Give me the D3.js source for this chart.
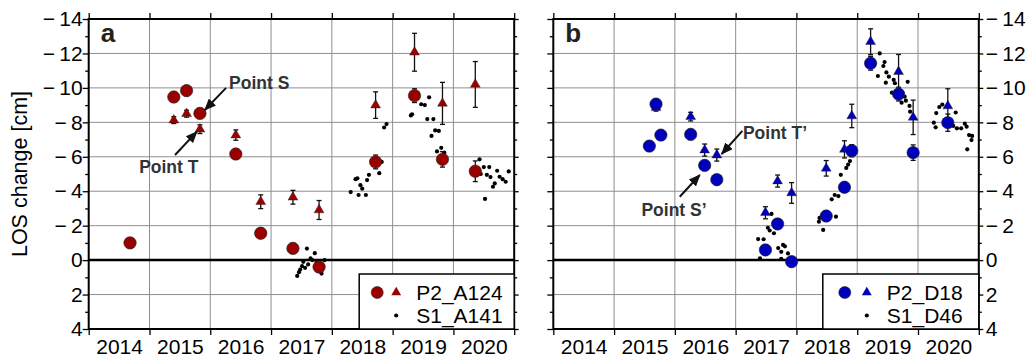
<!DOCTYPE html>
<html>
<head>
<meta charset="utf-8">
<script src="https://cdn.jsdelivr.net/npm/d3@7"></script>
<style>
  body { margin: 0; background: #fff; }
  text { font-family: "Liberation Sans", Arial, Helvetica, sans-serif; }
</style>
</head>
<body>
<svg id="chart" width="1028" height="359"></svg>
<script>
/* DATA */
// panel a : P2_A124 (circles + triangles) and S1_A141 (dots)
const A_DATES = [2014.68, 2015.40, 2015.61, 2015.83, 2016.42, 2016.83, 2017.36, 2017.79, 2018.72, 2019.36, 2019.82, 2020.36]
const A_CIRCLE = [-1.0, -9.47, -9.84, -8.52, -6.16, -1.56, -0.68, 0.40, -5.70, -9.55, -5.85, -5.16]
const A_CIRCLE_ERR = [0.3, 0.3, 0.3, 0.3, 0.3, 0.3, 0.3, 0.3, 0.4, 0.4, 0.45, 0.6]
const A_TRI = [null, -8.13, -8.5, -7.6, -7.26, -3.39, -3.65, -2.91, -9.0, -12.07, -9.1, -10.2]
const A_TRI_ERR = [null, 0.2, 0.2, 0.25, 0.3, 0.4, 0.4, 0.55, 0.77, 1.1, 1.22, 1.33]

const A_S1_DATES = [2017.43, 2017.46, 2017.48, 2017.51, 2017.53, 2017.56, 2017.59, 2017.61, 2017.65, 2017.68, 2017.72, 2017.75, 2017.80, 2017.83, 2017.88,
    2018.31, 2018.39, 2018.42, 2018.44, 2018.47, 2018.50, 2018.56, 2018.58, 2018.61, 2018.78, 2018.82, 2018.86, 2018.90,
    2019.30, 2019.32, 2019.47, 2019.53, 2019.57, 2019.60, 2019.64, 2019.67, 2019.70, 2019.73, 2019.76, 2019.80, 2019.85,
    2020.43, 2020.45, 2020.50, 2020.52, 2020.55, 2020.59, 2020.61, 2020.65, 2020.68, 2020.72, 2020.76, 2020.81, 2020.86, 2020.91]
const A_S1_VALUES = [0.92, 0.70, 0.55, 0.35, 0.10, 0.45, -0.67, 0.25, -0.10, 0.00, -0.40, 0.10, 0.60, 0.78, 0.00,
    -3.95, -4.70, -4.75, -3.78, -4.35, -4.15, -3.78, -4.65, -4.95, -5.05, -5.70, -7.70, -7.90,
    -8.40, -8.47, -9.05, -9.0, -8.19, -9.45, -7.21, -8.19, -7.53, -6.31, -7.50, -6.52, -6.24,
    -5.85, -5.0, -5.40, -3.55, -4.95, -5.40, -4.82, -4.26, -4.45, -5.19, -4.84, -4.70, -4.55, -5.15]

// panel b : P2_D18 (circles + triangles) and S1_D46 (dots)
const B_DATES = [2015.58, 2015.69, 2015.77, 2016.26, 2016.49, 2016.69, 2017.49, 2017.69, 2017.92, 2018.49, 2018.79, 2018.91, 2019.22, 2019.68, 2019.92, 2020.49]
const B_CIRCLE = [-6.62, -9.06, -7.26, -7.30, -5.50, -4.67, -0.59, -2.10, 0.09, -2.56, -4.23, -6.35, -11.43, -9.64, -6.24, -7.98]
const B_CIRCLE_ERR = [0.3, 0.3, 0.3, 0.3, 0.3, 0.3, 0.3, 0.3, 0.3, 0.3, 0.3, 0.35, 0.4, 0.4, 0.45, 0.5]
const B_TRI = [null, -8.85, null, -8.33, -6.39, -6.10, -2.75, -4.59, -3.90, -5.33, -6.43, -8.37, -12.68, -10.94, -8.29, -8.95]
const B_TRI_ERR = [null, 0.2, null, 0.25, 0.35, 0.35, 0.35, 0.35, 0.6, 0.45, 0.5, 0.68, 0.75, 1.0, 1.0, 1.0]

const B_S1_DATES = [2017.37, 2017.40, 2017.46, 2017.53, 2017.56, 2017.59, 2017.63, 2017.70, 2017.75, 2017.75, 2017.78, 2017.81, 2017.86,
    2018.37, 2018.38, 2018.44, 2018.58, 2018.63, 2018.65, 2018.69, 2018.73, 2018.82, 2018.85, 2018.88,
    2019.34, 2019.37, 2019.43, 2019.45, 2019.47, 2019.48, 2019.52, 2019.57, 2019.60, 2019.62, 2019.73, 2019.78, 2019.80, 2019.83, 2019.86, 2019.87,
    2020.26, 2020.29, 2020.30, 2020.35, 2020.40, 2020.58, 2020.62, 2020.64, 2020.71, 2020.77, 2020.80, 2020.84, 2020.88, 2020.89, 2020.81]
const B_S1_VALUES = [-1.22, -0.10, -1.21, -1.88, -1.72, -2.68, -1.56, -0.70, -0.48, -0.07, -0.88, -0.80, -0.39,
    -2.23, -2.45, -1.75, -3.53, -3.78, -2.52, -3.72, -4.95, -5.35, -5.55, -5.75,
    -10.69, -12.0, -11.27, -11.50, -10.30, -10.90, -10.65, -9.72, -10.46, -10.27, -9.14, -9.49, -9.26, -10.35, -8.95, -8.62,
    -7.98, -7.71, -8.54, -8.89, -9.03, -7.79, -8.57, -7.65, -7.65, -7.92, -7.75, -7.26, -6.97, -7.21, -6.43]

const YEARS = [2014, 2015, 2016, 2017, 2018, 2019, 2020]

/* LAYOUT */
const svg = d3.select("#chart")
const TOP = 19, PW = 425.5, PH = 310
const FONT = 21

// GMT-like labels: minus sign with a small gap
const yFmt = d => d < 0 ? "\u2212\u2009" + Math.abs(d) : String(d)

const defs = svg.append("defs")
defs.append("marker")
    .attr("id", "arrow")
    .attr("markerUnits", "userSpaceOnUse")
    .attr("viewBox", "0 0 12 10")
    .attr("markerWidth", 12).attr("markerHeight", 10)
    .attr("refX", 11).attr("refY", 5)
    .attr("orient", "auto")
    .append("path").attr("d", "M0,0 L12,5 L0,10 z").attr("fill", "#111")

function drawPanel(opts) {
    const g = svg.append("g").attr("transform", "translate(" + opts.left + "," + TOP + ")")

    const x = d3.scaleLinear().domain([2014, 2021]).range([0, PW])
    const y = d3.scaleLinear().domain([-14, 4]).range([0, PH])

    // grid
    g.append("g").selectAll("line")
        .data(d3.range(2015, 2021))
        .join("line")
        .attr("x1", d => x(d)).attr("x2", d => x(d))
        .attr("y1", 0).attr("y2", PH)
        .attr("stroke", "#8f8f8f").attr("stroke-width", 1)
    g.append("g").selectAll("line")
        .data(d3.range(-12, 4, 2))
        .join("line")
        .attr("x1", 0).attr("x2", PW)
        .attr("y1", d => y(d)).attr("y2", d => y(d))
        .attr("stroke", "#8f8f8f").attr("stroke-width", 1)

    // zero line
    g.append("line")
        .attr("x1", 0).attr("x2", PW)
        .attr("y1", y(0)).attr("y2", y(0))
        .attr("stroke", "#000").attr("stroke-width", 2.5)

    // axes
    const styleAxis = sel => {
        sel.select(".domain").remove()
        sel.selectAll("line").attr("stroke", "#000").attr("stroke-width", 1.3)
        sel.selectAll("text").attr("font-size", FONT).attr("fill", "#000")
            .attr("font-family", "'Liberation Sans', Arial, sans-serif")
    }
    g.append("g").attr("transform", "translate(0," + PH + ")")
        .call(d3.axisBottom(x).tickValues(d3.range(2014, 2022)).tickSize(6).tickFormat(""))
        .call(styleAxis)
    g.append("g").attr("transform", "translate(0," + PH + ")")
        .call(d3.axisBottom(x).tickValues(YEARS.map(d => d + 0.5)).tickSize(0).tickPadding(10.5)
            .tickFormat(d => String(Math.floor(d))))
        .call(styleAxis)
    g.append("g")
        .call(d3.axisTop(x).tickValues(d3.range(2014, 2022)).tickSize(6).tickFormat(""))
        .call(styleAxis)

    const major = d3.range(-14, 5, 2)
    const minor = d3.range(-13, 4, 2)
    g.append("g")
        .call(d3.axisLeft(y).tickValues(major).tickSize(6).tickPadding(0)
            .tickFormat(opts.labelsLeft ? yFmt : ""))
        .call(styleAxis)
    g.append("g")
        .call(d3.axisLeft(y).tickValues(minor).tickSize(3.5).tickFormat(""))
        .call(styleAxis)
    g.append("g").attr("transform", "translate(" + PW + ",0)")
        .call(d3.axisRight(y).tickValues(major).tickSize(4.5).tickPadding(2.5)
            .tickFormat(opts.labelsRight ? yFmt : ""))
        .call(styleAxis)
    g.append("g").attr("transform", "translate(" + PW + ",0)")
        .call(d3.axisRight(y).tickValues(minor).tickSize(3).tickFormat(""))
        .call(styleAxis)

    // S1 dots
    g.append("g").selectAll("circle")
        .data(d3.zip(opts.s1Dates, opts.s1Values))
        .join("circle")
        .attr("cx", d => x(d[0])).attr("cy", d => y(d[1]))
        .attr("r", 2.1).attr("fill", "#000")

    // P2 rows
    const rows = opts.dates.map((d, i) => ({
        date: d, circ: opts.circle[i], circErr: opts.circleErr[i], tri: opts.tri[i], triErr: opts.triErr[i]
    }))

    const errBar = (sel, val, err) => {
        sel.each(function (d) {
            if (d[val] == null) return
            const gg = d3.select(this)
            const cx = x(d.date), y1 = y(d[val] - d[err]), y2 = y(d[val] + d[err])
            gg.append("line").attr("x1", cx).attr("x2", cx).attr("y1", y1).attr("y2", y2)
            gg.append("line").attr("x1", cx - 2.5).attr("x2", cx + 2.5).attr("y1", y1).attr("y2", y1)
            gg.append("line").attr("x1", cx - 2.5).attr("x2", cx + 2.5).attr("y1", y2).attr("y2", y2)
        })
    }

    const tri = d3.symbol().type(d3.symbolTriangle).size(42)
    const triRows = rows.filter(d => d.tri != null)
    g.append("g").attr("stroke", "#111").attr("stroke-width", 1.3)
        .selectAll("g").data(triRows).join("g").call(errBar, "tri", "triErr")
    g.append("g").selectAll("path")
        .data(triRows)
        .join("path")
        .attr("d", tri)
        .attr("transform", d => "translate(" + x(d.date) + "," + y(d.tri) + ")")
        .attr("fill", opts.color).attr("stroke", "#222").attr("stroke-width", 0.4)

    g.append("g").attr("stroke", "#111").attr("stroke-width", 1.3)
        .selectAll("g").data(rows).join("g").call(errBar, "circ", "circErr")
    g.append("g").selectAll("circle")
        .data(rows)
        .join("circle")
        .attr("cx", d => x(d.date)).attr("cy", d => y(d.circ))
        .attr("r", 6.2).attr("fill", opts.color).attr("stroke", "#222").attr("stroke-width", 0.6)

    // annotations
    opts.notes.forEach(n => {
        g.append("line")
            .attr("x1", x(n.from[0])).attr("y1", y(n.from[1]))
            .attr("x2", x(n.to[0])).attr("y2", y(n.to[1]))
            .attr("stroke", "#111").attr("stroke-width", 2)
            .attr("marker-end", "url(#arrow)")
        g.append("text")
            .attr("x", x(n.at[0])).attr("y", y(n.at[1]))
            .attr("font-size", 17.5).attr("font-weight", "bold").attr("fill", "#333")
            .text(n.label)
    })

    // panel letter
    g.append("text")
        .attr("x", 12).attr("y", 23)
        .attr("font-size", 26).attr("font-weight", "bold").attr("fill", "#222")
        .text(opts.letter)

    // frame
    g.append("rect")
        .attr("width", PW).attr("height", PH)
        .attr("fill", "none").attr("stroke", "#000").attr("stroke-width", 2)

    // legend
    const lg = g.append("g").attr("transform", "translate(" + (PW - opts.legendW) + "," + (PH - 55) + ")")
    lg.append("rect").attr("width", opts.legendW).attr("height", 55)
        .attr("fill", "#fff").attr("stroke", "#000").attr("stroke-width", 1.5)
    const lx = opts.legendX
    lg.append("circle").attr("cx", lx).attr("cy", 18.5).attr("r", 6)
        .attr("fill", opts.color).attr("stroke", "#222").attr("stroke-width", 0.6)
    lg.append("path").attr("d", tri).attr("transform", "translate(" + (lx + opts.legendGap) + ",18.5)")
        .attr("fill", opts.color)
    lg.append("circle").attr("cx", lx + opts.legendGap).attr("cy", 41.5).attr("r", 2.1).attr("fill", "#000")
    lg.append("text").attr("x", lx + opts.legendGap + 20).attr("y", 26).attr("font-size", FONT).text(opts.names[0])
    lg.append("text").attr("x", lx + opts.legendGap + 20).attr("y", 49).attr("font-size", FONT).text(opts.names[1])
}

drawPanel({
    left: 88.7, letter: "a", color: "#990000", labelsLeft: true, labelsRight: false,
    dates: A_DATES, circle: A_CIRCLE, circleErr: A_CIRCLE_ERR, tri: A_TRI, triErr: A_TRI_ERR,
    s1Dates: A_S1_DATES, s1Values: A_S1_VALUES,
    names: ["P2_A124", "S1_A141"], legendW: 155, legendX: 18, legendGap: 19,
    notes: [
        { label: "Point S", at: [2016.31, -9.95], from: [2016.26, -10.0], to: [2015.91, -8.72] },
        { label: "Point T", at: [2014.83, -5.03], from: [2015.42, -6.10], to: [2015.78, -7.46] }
    ]
})

drawPanel({
    left: 553.3, letter: "b", color: "#0000bb", labelsLeft: false, labelsRight: true,
    dates: B_DATES, circle: B_CIRCLE, circleErr: B_CIRCLE_ERR, tri: B_TRI, triErr: B_TRI_ERR,
    s1Dates: B_S1_DATES, s1Values: B_S1_VALUES,
    names: ["P2_D18", "S1_D46"], legendW: 156, legendX: 22, legendGap: 22,
    notes: [
        { label: "Point T\u2019", at: [2017.12, -7.03], from: [2017.11, -7.50], to: [2016.77, -6.16] },
        { label: "Point S\u2019", at: [2015.45, -2.55], from: [2016.08, -3.68], to: [2016.41, -4.94] }
    ]
})

// y label
svg.append("text")
    .attr("transform", "translate(26.7," + (TOP + PH / 2) + ") rotate(-90)")
    .attr("text-anchor", "middle")
    .attr("font-size", 21.5)
    .text("LOS change [cm]")
</script>
</body>
</html>
